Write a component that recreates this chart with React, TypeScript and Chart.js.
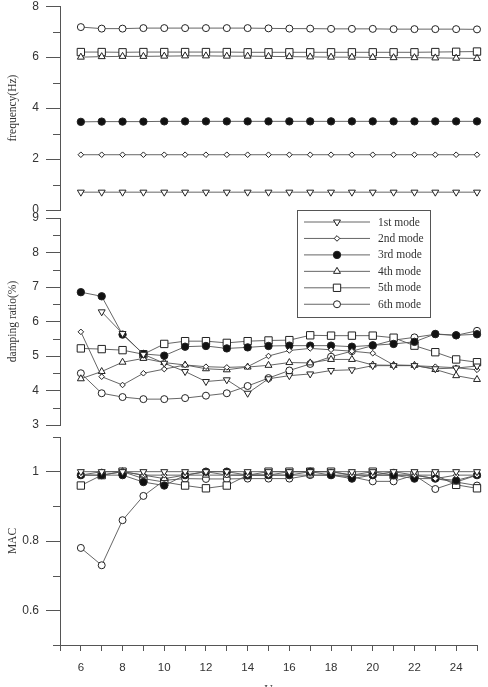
import React, { useEffect, useRef } from 'react';
import { Chart, registerables } from 'chart.js';

Chart.register(...registerables);

// Wind speed (x) shared by all three panels
const windSpeed = [6, 7, 8, 9, 10, 11, 12, 13, 14, 15, 16, 17, 18, 19, 20, 21, 22, 23, 24, 25];

const modeLabels = ['1st mode', '2nd mode', '3rd mode', '4th mode', '5th mode', '6th mode'];

// Natural frequencies (Hz)
const freq1 = [0.70, 0.70, 0.70, 0.70, 0.70, 0.70, 0.70, 0.70, 0.70, 0.70, 0.70, 0.70, 0.70, 0.70, 0.70, 0.70, 0.70, 0.70, 0.70, 0.70];
const freq2 = [2.17, 2.17, 2.17, 2.17, 2.17, 2.17, 2.17, 2.17, 2.17, 2.17, 2.17, 2.17, 2.17, 2.17, 2.17, 2.17, 2.17, 2.17, 2.17, 2.17];
const freq3 = [3.46, 3.47, 3.47, 3.47, 3.48, 3.48, 3.48, 3.48, 3.48, 3.48, 3.48, 3.48, 3.48, 3.48, 3.48, 3.48, 3.48, 3.48, 3.48, 3.48];
const freq4 = [6.00, 6.02, 6.03, 6.03, 6.04, 6.05, 6.05, 6.04, 6.04, 6.03, 6.02, 6.01, 6.00, 6.00, 5.99, 5.98, 5.98, 5.97, 5.96, 5.95];
const freq5 = [6.20, 6.20, 6.19, 6.20, 6.20, 6.20, 6.20, 6.20, 6.19, 6.19, 6.19, 6.19, 6.19, 6.19, 6.19, 6.19, 6.19, 6.20, 6.21, 6.22];
const freq6 = [7.18, 7.12, 7.12, 7.14, 7.14, 7.14, 7.14, 7.14, 7.14, 7.13, 7.12, 7.12, 7.11, 7.11, 7.11, 7.10, 7.10, 7.10, 7.10, 7.09];

// Damping ratios (%)
const damp1 = [null, 6.28, 5.65, 5.05, 4.79, 4.55, 4.26, 4.31, 3.92, 4.34, 4.43, 4.48, 4.58, 4.60, 4.72, 4.72, 4.72, 4.63, 4.65, 4.71];
const damp2 = [5.70, 4.40, 4.16, 4.50, 4.62, 4.74, 4.69, 4.67, 4.69, 5.00, 5.16, 5.22, 5.18, 5.14, 5.08, 4.74, 4.72, 4.69, 4.66, 4.60];
const damp3 = [6.85, 6.73, 5.62, 5.06, 5.01, 5.27, 5.29, 5.22, 5.25, 5.29, 5.30, 5.30, 5.30, 5.27, 5.31, 5.35, 5.41, 5.64, 5.60, 5.63];
const damp4 = [4.34, 4.55, 4.82, 4.93, 4.81, 4.74, 4.63, 4.60, 4.68, 4.73, 4.81, 4.80, 4.90, 4.90, 4.74, 4.73, 4.73, 4.61, 4.43, 4.32];
const damp5 = [5.22, 5.20, 5.17, 5.05, 5.35, 5.43, 5.43, 5.38, 5.43, 5.45, 5.46, 5.60, 5.59, 5.59, 5.59, 5.53, 5.30, 5.11, 4.90, 4.82];
const damp6 = [4.50, 3.92, 3.81, 3.75, 3.75, 3.78, 3.85, 3.92, 4.13, 4.36, 4.58, 4.77, 4.98, 5.14, 5.30, 5.46, 5.54, 5.63, 5.60, 5.73];

// Modal assurance criterion
const mac1 = [1.00, 1.00, 1.00, 1.00, 1.00, 1.00, 1.00, 1.00, 1.00, 1.00, 1.00, 1.00, 1.00, 1.00, 1.00, 1.00, 1.00, 1.00, 1.00, 1.00];
const mac2 = [0.99, 1.00, 1.00, 0.99, 0.99, 0.99, 1.00, 0.99, 0.99, 0.99, 1.00, 1.00, 1.00, 0.99, 0.99, 1.00, 0.99, 0.98, 0.99, 0.99];
const mac3 = [0.99, 0.99, 0.99, 0.97, 0.96, 0.99, 1.00, 1.00, 0.99, 0.99, 0.99, 1.00, 0.99, 0.98, 0.99, 0.99, 0.98, 0.98, 0.975, 0.99];
const mac4 = [0.99, 0.99, 1.00, 0.99, 0.98, 0.99, 0.99, 0.99, 0.99, 0.99, 0.99, 0.99, 0.99, 0.99, 0.99, 0.99, 0.99, 0.98, 0.97, 0.99];
const mac5 = [0.96, 0.99, 1.00, 0.98, 0.97, 0.96, 0.952, 0.96, 0.99, 1.00, 1.00, 1.00, 1.00, 0.99, 1.00, 0.99, 0.99, 0.99, 0.962, 0.952];
const mac6 = [0.78, 0.73, 0.86, 0.93, 0.975, 0.98, 0.979, 0.979, 0.98, 0.98, 0.98, 0.99, 0.99, 0.985, 0.972, 0.972, 0.99, 0.95, 0.97, 0.96];

const AXIS_COLOR = '#555';
const LINE_COLOR = '#555';
const MARK_COLOR = '#222';
const TEXT_COLOR = '#333';
const SANS = '"Liberation Sans", Arial, Helvetica, sans-serif';
const SERIF = '"Liberation Serif", "Times New Roman", serif';

type Marker = { pointStyle: string; rotation: number; radius: number; fill: string };

const markers: Marker[] = [
  { pointStyle: 'triangle', rotation: 180, radius: 4, fill: '#fff' },
  { pointStyle: 'rectRot', rotation: 0, radius: 2.8, fill: '#fff' },
  { pointStyle: 'circle', rotation: 0, radius: 3.7, fill: '#111' },
  { pointStyle: 'triangle', rotation: 0, radius: 4, fill: '#fff' },
  { pointStyle: 'rect', rotation: 0, radius: 5.2, fill: '#fff' },
  { pointStyle: 'circle', rotation: 0, radius: 3.5, fill: '#fff' },
];

function buildDatasets(series: (number | null)[][]) {
  return series.map((vals, i) => ({
    label: modeLabels[i],
    data: windSpeed.map((x, j) => ({ x, y: vals[j] })),
    borderColor: LINE_COLOR,
    borderWidth: 0.9,
    pointStyle: markers[i].pointStyle,
    pointRotation: markers[i].rotation,
    pointRadius: markers[i].radius,
    pointHoverRadius: markers[i].radius,
    pointBackgroundColor: markers[i].fill,
    pointBorderColor: MARK_COLOR,
    pointBorderWidth: 1,
    fill: false,
    tension: 0,
    spanGaps: false,
    clip: false,
  }));
}

const isMultiple = (v: number, step: number) => Math.abs(v / step - Math.round(v / step)) < 1e-6;
const fmt = (v: number) => String(Math.round(v * 10) / 10);

function yAxis(min: number, max: number, step: number, major: number, title: string) {
  return {
    type: 'linear',
    min,
    max,
    border: { display: true, color: AXIS_COLOR, width: 1 },
    grid: {
      drawOnChartArea: false,
      drawTicks: true,
      tickLength: 14,
      tickWidth: 1,
      tickColor: (c: any) => (isMultiple(c.tick.value, major) ? AXIS_COLOR : 'rgba(0,0,0,0)'),
    },
    ticks: {
      stepSize: step,
      autoSkip: false,
      padding: 7,
      color: TEXT_COLOR,
      font: { family: SANS, size: 12 },
      callback: (v: number) => (isMultiple(v, major) ? fmt(v) : ''),
    },
    title: {
      display: true,
      text: title,
      color: TEXT_COLOR,
      font: { family: SERIF, size: 11.5 },
      padding: { top: 6, bottom: 0 },
    },
    afterFit: (s: any) => {
      s.width = 60;
      s.paddingTop = 0;
      s.paddingBottom = 0;
    },
  };
}

const hiddenX = { type: 'linear', min: 5, max: 25, display: false };

const bottomX = {
  type: 'linear',
  min: 5,
  max: 25,
  border: { display: true, color: AXIS_COLOR, width: 1 },
  grid: { drawOnChartArea: false, drawTicks: true, tickLength: 6, tickColor: AXIS_COLOR },
  ticks: {
    stepSize: 1,
    autoSkip: false,
    maxRotation: 0,
    padding: 10,
    color: TEXT_COLOR,
    font: { family: SANS, size: 11.5 },
    callback: (v: number) => (v % 2 === 0 && v >= 6 && v <= 24 ? String(v) : ''),
  },
  title: {
    display: true,
    text: 'U',
    color: TEXT_COLOR,
    font: { family: SERIF, size: 12 },
    padding: { top: 0, bottom: -10 },
  },
  afterFit: (s: any) => {
    s.height = 42;
    s.paddingLeft = 0;
    s.paddingRight = 0;
  },
};

// Short minor ticks between the labelled ones on the y axis
const minorTicks = {
  id: 'minorTicks',
  afterDraw(chart: any, _args: any, opts: any) {
    const s = chart.scales.y;
    const ctx = chart.ctx;
    ctx.save();
    ctx.strokeStyle = AXIS_COLOR;
    ctx.lineWidth = 1;
    s.ticks.forEach((t: any) => {
      if (isMultiple(t.value, opts.major)) return;
      const y = Math.round(s.getPixelForValue(t.value)) + 0.5;
      ctx.beginPath();
      ctx.moveTo(s.right - 7, y);
      ctx.lineTo(s.right, y);
      ctx.stroke();
    });
    ctx.restore();
  },
};

function drawMarker(ctx: CanvasRenderingContext2D, m: Marker, x: number, y: number) {
  const r = m.radius;
  ctx.beginPath();
  if (m.pointStyle === 'circle') {
    ctx.arc(x, y, r, 0, Math.PI * 2);
  } else if (m.pointStyle === 'rect') {
    const s = r * Math.SQRT1_2;
    ctx.rect(x - s, y - s, 2 * s, 2 * s);
  } else if (m.pointStyle === 'rectRot') {
    ctx.moveTo(x, y - r);
    ctx.lineTo(x + r, y);
    ctx.lineTo(x, y + r);
    ctx.lineTo(x - r, y);
    ctx.closePath();
  } else {
    let a = (m.rotation * Math.PI) / 180;
    ctx.moveTo(x + Math.sin(a) * r, y - Math.cos(a) * r);
    a += (2 * Math.PI) / 3;
    ctx.lineTo(x + Math.sin(a) * r, y - Math.cos(a) * r);
    a += (2 * Math.PI) / 3;
    ctx.lineTo(x + Math.sin(a) * r, y - Math.cos(a) * r);
    ctx.closePath();
  }
  ctx.fillStyle = m.fill;
  ctx.fill();
  ctx.strokeStyle = MARK_COLOR;
  ctx.lineWidth = 1;
  ctx.stroke();
}

// Boxed legend listing the six modes
const modeLegend = {
  id: 'modeLegend',
  afterDraw(chart: any, _args: any, o: any) {
    const ctx: CanvasRenderingContext2D = chart.ctx;
    ctx.save();
    ctx.fillStyle = '#fff';
    ctx.fillRect(o.left, o.top, o.width, o.height);
    ctx.strokeStyle = AXIS_COLOR;
    ctx.lineWidth = 1;
    ctx.strokeRect(o.left + 0.5, o.top + 0.5, o.width, o.height);
    ctx.font = `11.5px ${SERIF}`;
    ctx.textBaseline = 'middle';
    ctx.textAlign = 'left';
    chart.data.datasets.forEach((ds: any, i: number) => {
      const cy = o.top + o.firstRow + i * o.rowGap;
      ctx.strokeStyle = LINE_COLOR;
      ctx.lineWidth = 0.9;
      ctx.beginPath();
      ctx.moveTo(o.left + o.lineStart, cy);
      ctx.lineTo(o.left + o.lineEnd, cy);
      ctx.stroke();
      drawMarker(ctx, markers[i], o.left + (o.lineStart + o.lineEnd) / 2, cy);
      ctx.fillStyle = TEXT_COLOR;
      ctx.fillText(ds.label, o.left + o.textX, cy + 0.5);
    });
    ctx.restore();
  },
};

function baseOptions(padding: any) {
  return {
    responsive: false,
    animation: false,
    devicePixelRatio: 1,
    layout: { padding },
    events: [],
  };
}

export default function App() {
  const freqRef = useRef<HTMLCanvasElement>(null);
  const dampRef = useRef<HTMLCanvasElement>(null);
  const macRef = useRef<HTMLCanvasElement>(null);

  useEffect(() => {
    const charts: Chart[] = [];

    charts.push(
      new Chart(freqRef.current!, {
        type: 'line',
        data: { datasets: buildDatasets([freq1, freq2, freq3, freq4, freq5, freq6]) as any },
        options: {
          ...baseOptions({ left: 0, right: 11, top: 1.3, bottom: 477 }),
          scales: { x: hiddenX, y: yAxis(0, 8, 1, 2, 'frequency(Hz)') },
          plugins: { legend: { display: false }, tooltip: { enabled: false }, minorTicks: { major: 2 } },
        } as any,
        plugins: [minorTicks],
      })
    );

    charts.push(
      new Chart(dampRef.current!, {
        type: 'line',
        data: { datasets: buildDatasets([damp1, damp2, damp3, damp4, damp5, damp6]) as any },
        options: {
          ...baseOptions({ left: 0, right: 11, top: 218, bottom: 262 }),
          scales: { x: hiddenX, y: yAxis(3, 9, 0.5, 1, 'damping ratio(%)') },
          plugins: {
            legend: { display: false },
            tooltip: { enabled: false },
            minorTicks: { major: 1 },
            modeLegend: {
              left: 297,
              top: 210,
              width: 133,
              height: 107,
              firstRow: 12,
              rowGap: 16.45,
              lineStart: 7,
              lineEnd: 73,
              textX: 81,
            },
          },
        } as any,
        plugins: [minorTicks, modeLegend],
      })
    );

    charts.push(
      new Chart(macRef.current!, {
        type: 'line',
        data: { datasets: buildDatasets([mac1, mac2, mac3, mac4, mac5, mac6]) as any },
        options: {
          ...baseOptions({ left: 0, right: 11, top: 437, bottom: 0 }),
          scales: { x: bottomX, y: yAxis(0.5, 1.1, 0.1, 0.2, 'MAC') },
          plugins: { legend: { display: false }, tooltip: { enabled: false }, minorTicks: { major: 0.2 } },
        } as any,
        plugins: [minorTicks],
      })
    );

    return () => charts.forEach((c) => c.destroy());
  }, []);

  const canvasStyle: React.CSSProperties = { position: 'absolute', left: 0, top: 0, width: 488, height: 687 };

  return (
    <div style={{ position: 'fixed', left: 0, top: 0, width: 488, height: 687, background: '#fff', overflow: 'hidden' }}>
      <canvas ref={freqRef} width={488} height={687} style={canvasStyle} />
      <canvas ref={dampRef} width={488} height={687} style={canvasStyle} />
      <canvas ref={macRef} width={488} height={687} style={canvasStyle} />
    </div>
  );
}
